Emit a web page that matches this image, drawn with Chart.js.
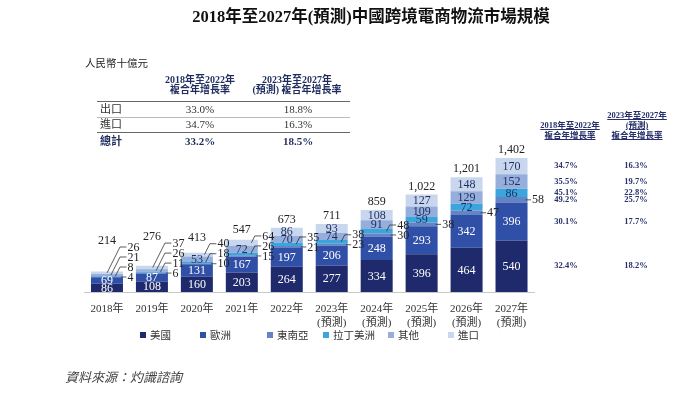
<!DOCTYPE html>
<html>
<head>
<meta charset="utf-8">
<script src="https://cdn.jsdelivr.net/npm/chart.js@4.4.1/dist/chart.umd.min.js"></script>
<style>
  html, body { margin: 0; padding: 0; background: #fff; }
  #wrap { position: relative; width: 700px; height: 413px; overflow: hidden; font-family: "Liberation Serif", "Noto Sans CJK TC", serif; }
  #c { position: absolute; left: 0; top: 0; }
  .t { position: absolute; white-space: nowrap; line-height: 1; }
  .ctr { transform: translateX(-50%); text-align: center; }
  .hdr { font-weight: bold; color: #1f2d5e; font-size: 10px; }
  .rhdr { font-weight: bold; color: #27306b; font-size: 8.5px; text-decoration: underline; }
  .cell { font-size: 11px; color: #333; }
  .tot { font-weight: bold; color: #1f2d5e; }
  .hl { position: absolute; height: 0; }
  .leg { position: absolute; font-size: 10.5px; color: #333; white-space: nowrap; line-height: 1; }
  .leg i { display: inline-block; width: 6px; height: 6px; margin-right: 4px; vertical-align: 1px; }
</style>
</head>
<body>
<div id="wrap">
  <canvas id="c" width="700" height="413"></canvas>
  <div id="overlay"></div>
</div>
<script>
// ---------------- data ----------------
const tickLabels = [['2018年'], ['2019年'], ['2020年'], ['2021年'], ['2022年'],
  ['2023年', '(預測)'], ['2024年', '(預測)'], ['2025年', '(預測)'], ['2026年', '(預測)'], ['2027年', '(預測)']];
const seriesNames = ['美國', '歐洲', '東南亞', '拉丁美洲', '其他', '進口'];
const usa     = [86, 108, 160, 203, 264, 277, 334, 396, 464, 540];
const europe  = [69, 87, 131, 167, 197, 206, 248, 293, 342, 396];
const seAsia  = [4, 6, 10, 15, 21, 23, 30, 38, 47, 58];
const latam   = [8, 11, 18, 26, 35, 38, 48, 59, 72, 86];
const others  = [21, 26, 53, 72, 70, 74, 91, 109, 129, 152];
const imports = [26, 37, 40, 64, 86, 93, 108, 127, 148, 170];
const totals  = [214, 276, 413, 547, 673, 711, 859, 1022, 1201, 1402];
const cagr2018to2022 = ['32.4%', '30.1%', '49.2%', '45.1%', '35.5%', '34.7%'];
const cagr2023to2027 = ['18.2%', '17.7%', '25.7%', '22.8%', '19.7%', '16.3%'];
const summaryRows = ['出口', '進口', '總計'];
const summaryCagrA = ['33.0%', '34.7%', '33.2%'];
const summaryCagrB = ['18.8%', '16.3%', '18.5%'];

// ---------------- styles ----------------
const colors = ['#1f2a6c', '#3050a8', '#6584c4', '#3ba6de', '#95aedb', '#c9d7ee'];
const seriesData = [usa, europe, seAsia, latam, others, imports];
const numFont = '"Liberation Serif", "Noto Sans CJK TC", serif';

// ---------------- overlay text ----------------
const ov = document.getElementById('overlay');
function addText(html, x, y, cls, style) {
  const d = document.createElement('div');
  d.className = 't ' + (cls || '');
  d.innerHTML = html;
  d.style.left = x + 'px';
  d.style.top = y + 'px';
  if (style) Object.assign(d.style, style);
  ov.appendChild(d);
  return d;
}
function addLine(x1, x2, y, color, w) {
  const d = document.createElement('div');
  d.className = 'hl';
  d.style.left = x1 + 'px'; d.style.width = (x2 - x1) + 'px'; d.style.top = y + 'px';
  d.style.borderTop = w + 'px solid ' + color;
  ov.appendChild(d);
}
// title
addText('2018年至2027年(預測)中國跨境電商物流市場規模', 371, 9, 'ctr', { fontSize: '16.5px', fontWeight: 'bold', color: '#111' });
// unit
addText('人民幣十億元', 85, 59, '', { fontSize: '10.5px', color: '#222' });
// summary table header
addText('2018年至2022年', 200, 75, 'ctr hdr');
addText('複合年增長率', 200, 85, 'ctr hdr');
addText('2023年至2027年', 297, 75, 'ctr hdr');
addText('(預測) 複合年增長率', 297, 85, 'ctr hdr');
addLine(97, 350, 100.5, '#666', 1);
addLine(97, 350, 116.5, '#bbb', 1);
addLine(97, 350, 131.5, '#666', 1);
const rowY = [103.5, 118.5, 135.5];
summaryRows.forEach((r, i) => {
  const bold = i === summaryRows.length - 1 ? ' tot' : '';
  addText(r, 100, rowY[i], 'cell' + bold);
  addText(summaryCagrA[i], 200, rowY[i], 'ctr cell' + bold);
  addText(summaryCagrB[i], 298, rowY[i], 'ctr cell' + bold);
});
// right-hand table header
addText('2018年至2022年', 570, 121, 'ctr rhdr');
addText('複合年增長率', 570, 131, 'ctr rhdr');
addText('2023年至2027年', 637, 111, 'ctr rhdr');
addText('(預測)', 637, 121, 'ctr rhdr');
addText('複合年增長率', 637, 131, 'ctr rhdr');
// legend
const legendX = [140, 200, 267, 323, 388, 448];
seriesNames.forEach((n, i) => {
  const d = document.createElement('div');
  d.className = 'leg';
  d.style.left = legendX[i] + 'px';
  d.style.top = '331px';
  d.innerHTML = '<i style="background:' + colors[i] + '"></i>' + n;
  ov.appendChild(d);
});
// source
addText('資料來源：灼識諮詢', 65, 371, '', { fontSize: '13px', fontStyle: 'italic', color: '#444' });

// ---------------- labels plugin ----------------
const labelPlugin = {
  id: 'barLabels',
  afterDatasetsDraw(chart) {
    const ctx = chart.ctx;
    const nCat = tickLabels.length;
    const nDs = chart.data.datasets.length;
    ctx.save();
    ctx.font = '12px ' + numFont;
    ctx.textBaseline = 'middle';
    ctx.lineWidth = 0.8;
    ctx.strokeStyle = '#333';
    for (let i = 0; i < nCat; i++) {
      let topY = Infinity, barX = 0, barRight = 0;
      const segs = [];
      for (let d = 0; d < nDs; d++) {
        const el = chart.getDatasetMeta(d).data[i];
        const v = chart.data.datasets[d].data[i];
        segs.push({ d, v, x: el.x, cy: (el.y + el.base) / 2 });
        barX = el.x; barRight = el.x + el.width / 2;
        topY = Math.min(topY, el.y);
      }
      // decide inside / outside from the top down
      let lastInsideY = -Infinity;
      for (let k = nDs - 1; k >= 0; k--) {
        const s = segs[k];
        const isTop = k === nDs - 1;
        if (s.d < 2) { s.inside = true; continue; }
        const big = isTop ? s.v >= 70 : s.v >= 50;
        s.inside = big && (s.cy - lastInsideY >= 7.1);
        if (s.inside) lastInsideY = s.cy;
      }
      segs.forEach(s => {
        if (!s.inside) return;
        ctx.textAlign = 'center';
        ctx.fillStyle = s.d < 2 ? '#ffffff' : '#1f2d5e';
        ctx.fillText(String(s.v), s.x, s.cy + 0.5);
      });
      const outside = segs.filter(s => !s.inside);
      let prevY = Infinity, highest = Infinity;
      const lx = barRight + 4;
      outside.forEach(o => {
        let ly = Math.min(o.cy, prevY - 10);
        const dy = o.cy - ly;
        ctx.beginPath();
        if (dy < 1.5) {
          ly = o.cy;
          ctx.moveTo(barRight - 2, ly);
          ctx.lineTo(lx - 0.5, ly);
        } else {
          const ex = barRight - 3;
          ctx.moveTo(ex - dy * 0.5, o.cy);
          ctx.lineTo(ex, ly);
          ctx.lineTo(lx - 0.5, ly);
        }
        ctx.stroke();
        prevY = ly; highest = ly;
        ctx.textAlign = 'left';
        ctx.fillStyle = '#222';
        ctx.fillText(String(o.v), lx + 0.5, ly + 0.5);
      });
      let ty = topY - 8;
      if (outside.length) ty = Math.min(ty, highest - 6);
      ctx.textAlign = 'center';
      ctx.fillStyle = '#222';
      ctx.fillText(totals[i].toLocaleString('en-US'), barX, ty);
    }
    // CAGR columns aligned to last bar segments
    const last = nCat - 1;
    ctx.font = 'bold 8.5px ' + numFont;
    ctx.fillStyle = '#27306b';
    ctx.textAlign = 'center';
    for (let d = 0; d < nDs; d++) {
      const el = chart.getDatasetMeta(d).data[last];
      const cy = (el.y + el.base) / 2;
      ctx.fillText(cagr2018to2022[d], 566, cy);
      ctx.fillText(cagr2023to2027[d], 636, cy);
    }
    ctx.restore();
  }
};

// ---------------- chart ----------------
new Chart(document.getElementById('c'), {
  type: 'bar',
  data: {
    labels: tickLabels,
    datasets: seriesNames.map((n, i) => ({
      label: n,
      data: seriesData[i],
      backgroundColor: colors[i],
      borderWidth: 0,
      barPercentage: 0.712,
      categoryPercentage: 1.0
    }))
  },
  options: {
    responsive: false,
    animation: false,
    devicePixelRatio: 1,
    layout: { padding: { left: 84.5, right: 166, top: 101, bottom: 0 } },
    plugins: { legend: { display: false }, tooltip: { enabled: false } },
    scales: {
      x: {
        stacked: true,
        grid: { display: false, drawTicks: false },
        border: { display: true, color: '#c8c8c8', width: 1 },
        ticks: {
          color: '#333',
          padding: 10,
          autoSkip: false,
          maxRotation: 0,
          font: { family: numFont, size: 11, lineHeight: 1.27 }
        },
        afterFit(scale) { scale.height = 121; }
      },
      y: { stacked: true, display: false, min: 0, max: 2000 }
    }
  },
  plugins: [labelPlugin]
});
</script>
</body>
</html>
